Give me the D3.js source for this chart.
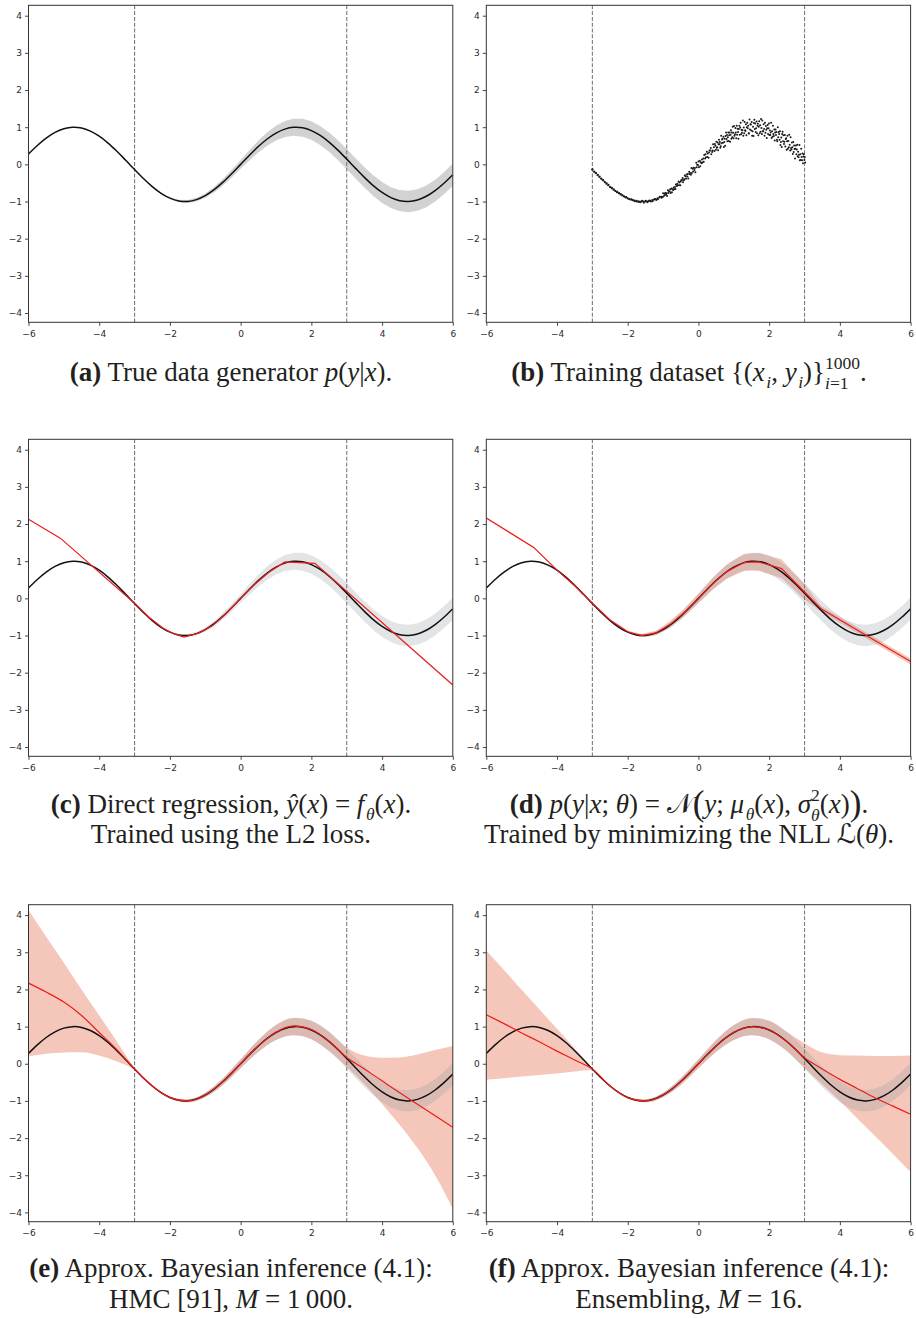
<!DOCTYPE html>
<html>
<head>
<meta charset="utf-8">
<script src="https://cdn.jsdelivr.net/npm/d3@7"></script>
<style>
  body { margin: 0; background: #fff; }
  svg { display: block; }
</style>
</head>
<body>
<svg id="fig" width="916" height="1318"></svg>
<script>
// axis setup
var xDomain = [-6, 6],
    yDomain = [-4.25, 4.28],
    xTicks = [-6, -4, -2, 0, 2, 4, 6],
    yTicks = [-4, -3, -2, -1, 0, 1, 2, 3, 4],
    trainEdges = [-3, 3];

// true mean of p(y|x), sampled every 0.25
var curveX = [-6, -5.75, -5.5, -5.25, -5, -4.75, -4.5, -4.25, -4, -3.75, -3.5, -3.25, -3,
  -2.75, -2.5, -2.25, -2, -1.75, -1.5, -1.25, -1, -0.75, -0.5, -0.25, 0,
  0.25, 0.5, 0.75, 1, 1.25, 1.5, 1.75, 2, 2.25, 2.5, 2.75, 3,
  3.25, 3.5, 3.75, 4, 4.25, 4.5, 4.75, 5, 5.25, 5.5, 5.75, 6];
var curveY = [0.279, 0.508, 0.706, 0.859, 0.959, 0.999, 0.978, 0.895, 0.757, 0.572, 0.351, 0.108, -0.141,
  -0.382, -0.598, -0.778, -0.909, -0.984, -0.997, -0.949, -0.841, -0.682, -0.479, -0.247, 0,
  0.247, 0.479, 0.682, 0.841, 0.949, 0.997, 0.984, 0.909, 0.778, 0.598, 0.382, 0.141,
  -0.108, -0.351, -0.572, -0.757, -0.895, -0.978, -0.999, -0.959, -0.859, -0.706, -0.508, -0.279];
// half width of the grey noise band
var noiseHalf = [0, 0, 0, 0, 0, 0, 0, 0, 0, 0, 0, 0, 0,
  0.005, 0.01, 0.015, 0.02, 0.03, 0.04, 0.05, 0.06, 0.075, 0.09, 0.105, 0.12,
  0.14, 0.16, 0.18, 0.2, 0.215, 0.23, 0.24, 0.25, 0.255, 0.26, 0.265, 0.27,
  0.272, 0.275, 0.277, 0.28, 0.282, 0.285, 0.287, 0.29, 0.292, 0.295, 0.297, 0.3];

// training samples (b), grouped by x column
var trainX = [-3, -2.95, -2.9, -2.85, -2.8, -2.75, -2.7, -2.65, -2.6, -2.55, -2.5, -2.45, -2.4, -2.35, -2.3,
  -2.25, -2.2, -2.15, -2.1, -2.05, -2, -1.95, -1.9, -1.85, -1.8, -1.75, -1.7, -1.65, -1.6, -1.55,
  -1.5, -1.45, -1.4, -1.35, -1.3, -1.25, -1.2, -1.15, -1.1, -1.05, -1, -0.95, -0.9, -0.85, -0.8,
  -0.75, -0.7, -0.65, -0.6, -0.55, -0.5, -0.45, -0.4, -0.35, -0.3, -0.25, -0.2, -0.15, -0.1, -0.05,
  0, 0.05, 0.1, 0.15, 0.2, 0.25, 0.3, 0.35, 0.4, 0.45, 0.5, 0.55, 0.6, 0.65, 0.7,
  0.75, 0.8, 0.85, 0.9, 0.95, 1, 1.05, 1.1, 1.15, 1.2, 1.25, 1.3, 1.35, 1.4, 1.45,
  1.5, 1.55, 1.6, 1.65, 1.7, 1.75, 1.8, 1.85, 1.9, 1.95, 2, 2.05, 2.1, 2.15, 2.2,
  2.25, 2.3, 2.35, 2.4, 2.45, 2.5, 2.55, 2.6, 2.65, 2.7, 2.75, 2.8, 2.85, 2.9, 2.95, 3];
var trainY = [
  [-0.14, -0.13], [-0.19, -0.2], [-0.24, -0.23], [-0.29, -0.28], [-0.34, -0.33], [-0.38, -0.39],
  [-0.43, -0.42], [-0.47, -0.48], [-0.52, -0.51], [-0.56, -0.55], [-0.6, -0.61], [-0.64, -0.63],
  [-0.68, -0.67], [-0.71, -0.72], [-0.75, -0.74], [-0.78, -0.77], [-0.81, -0.8], [-0.84, -0.83],
  [-0.86, -0.87], [-0.89, -0.88], [-0.91, -0.92], [-0.93, -0.94], [-0.95, -0.94], [-0.96, -0.97],
  [-0.97, -0.99], [-0.98, -1], [-0.99, -1.01], [-1, -1.02], [-1, -0.98], [-1, -1.03],
  [-1, -0.98], [-0.99, -1.02], [-0.99, -0.97], [-0.98, -1], [-0.96, -0.99], [-0.95, -0.93],
  [-0.93, -0.96], [-0.91, -0.94], [-0.89, -0.87], [-0.87, -0.9],
  [-0.88, -0.78, -0.86], [-0.79, -0.83, -0.77], [-0.81, -0.78, -0.85], [-0.7, -0.77, -0.72],
  [-0.73, -0.67, -0.77], [-0.65, -0.75, -0.67], [-0.69, -0.62, -0.67], [-0.61, -0.66, -0.54],
  [-0.58, -0.52, -0.56], [-0.46, -0.56, -0.49], [-0.56, -0.46, -0.43], [-0.42, -0.37, -0.48],
  [-0.43, -0.4, -0.3], [-0.33, -0.39, -0.27], [-0.33, -0.26, -0.38], [-0.2, -0.26, -0.23],
  [-0.28, -0.1, -0.23], [-0.12, -0.19, -0.09], [-0.15, -0.1, -0.21], [0.04, -0.08, -0.01],
  [-0.02, 0.08, -0.08], [0.1, -0.05, 0.06], [0.03, 0.13, 0.05], [0.16, 0.07, 0.25],
  [0.16, 0.27, 0.19], [0.34, 0.2, 0.29], [0.18, 0.32, 0.37], [0.37, 0.44, 0.27],
  [0.33, 0.37, 0.54], [0.46, 0.36, 0.55],
  [0.5, 0.39, 0.61, 0.45], [0.46, 0.59, 0.38, 0.54], [0.66, 0.54, 0.6, 0.45], [0.49, 0.77, 0.57, 0.67],
  [0.69, 0.58, 0.74, 0.47], [0.6, 0.69, 0.5, 0.76], [0.86, 0.68, 0.79, 0.62], [0.73, 0.86, 0.63, 0.78],
  [0.86, 0.61, 0.8, 0.92], [0.69, 0.86, 0.73, 1.01], [0.85, 0.7, 1.03, 0.77], [0.81, 0.98, 0.86, 0.7],
  [1.04, 0.8, 0.96, 0.87], [0.69, 0.95, 1.04, 0.8], [0.99, 1.12, 0.81, 0.93], [0.85, 0.92, 1.18, 0.77],
  [0.99, 0.84, 1.14, 0.92], [0.9, 1.08, 0.78, 1], [1.12, 0.97, 1.04, 0.84], [0.83, 1.21, 0.94, 1.08],
  [1.07, 0.91, 1.14, 0.77], [0.89, 1.01, 0.76, 1.11], [1.2, 0.95, 1.1, 0.87], [0.97, 1.15, 0.84, 1.04],
  [1.09, 0.78, 1.01, 1.16], [0.84, 1.05, 0.88, 1.22], [0.98, 0.82, 1.18, 0.89], [0.89, 1.08, 0.95, 0.77],
  [1.12, 0.85, 1.03, 0.93], [0.71, 0.97, 1.06, 0.82], [0.97, 1.1, 0.79, 0.91], [0.79, 0.86, 1.12, 0.71],
  [0.89, 0.74, 1.04, 0.82], [0.76, 0.94, 0.64, 0.86], [0.94, 0.79, 0.87, 0.66], [0.62, 1, 0.73, 0.87],
  [0.82, 0.66, 0.89, 0.52], [0.6, 0.72, 0.47, 0.82], [0.88, 0.62, 0.78, 0.55], [0.61, 0.79, 0.48, 0.68],
  [0.7, 0.39, 0.62, 0.77], [0.42, 0.63, 0.46, 0.8], [0.53, 0.37, 0.73, 0.44], [0.4, 0.59, 0.46, 0.28],
  [0.6, 0.33, 0.51, 0.41], [0.16, 0.42, 0.51, 0.27], [0.4, 0.53, 0.22, 0.34], [0.19, 0.26, 0.52, 0.11],
  [0.27, 0.12, 0.42, 0.2], [0.11, 0.29, 0.03, 0.21], [0.27, 0.12, 0.2, 0.05]
];

// (c) direct regression, L2 loss
var l2X = [-6, -5.1, -3, -2.6, -2.2, -1.9, -1.6, -1.2, -0.8, -0.4, 0, 0.4, 0.8, 1.25, 2.1, 6];
var l2Y = [2.13, 1.62, -0.13, -0.5, -0.8, -0.95, -1.04, -0.94, -0.74, -0.4, 0, 0.38, 0.7, 0.98, 0.94, -2.33];

// (d) gaussian NLL: mean and half width of predicted band
var nllX = [-6, -4.66, -4, -3.5, -3, -2.5, -2, -1.6, -1.2, -0.8, -0.4, 0, 0.4, 0.8, 1.3, 1.7, 2.35, 3, 3.48, 6];
var nllY = [2.16, 1.37, 0.76, 0.34, -0.13, -0.58, -0.9, -1, -0.93, -0.7, -0.38, 0, 0.39, 0.72, 0.97, 0.98, 0.8, 0.17, -0.29, -1.7];
var nllHalf = [0.02, 0.02, 0.02, 0.02, 0.02, 0.02, 0.03, 0.04, 0.06, 0.09, 0.11, 0.13, 0.16, 0.19, 0.23, 0.24, 0.25, 0.2, 0.08, 0.08];

// (e) HMC and (f) ensembling, on a common grid
var bayesX = [-6, -5.5, -5, -4.5, -4, -3.5, -3, -2.5, -2, -1.5, -1, -0.5, 0, 0.5, 1, 1.5, 2, 2.5, 3, 3.5, 4, 4.5, 5, 5.5, 6];
var hmcMean = [2.17, 1.93, 1.66, 1.3, 0.84, 0.38, -0.14, -0.6, -0.91, -1, -0.84, -0.48, 0, 0.48, 0.85, 1.02, 0.92, 0.61, 0.17, -0.14, -0.46, -0.78, -1.09, -1.4, -1.71];
var hmcHi = [4.14, 3.42, 2.72, 2, 1.3, 0.6, -0.11, -0.57, -0.88, -0.96, -0.78, -0.39, 0.12, 0.64, 1.05, 1.24, 1.16, 0.86, 0.44, 0.22, 0.16, 0.17, 0.25, 0.37, 0.48];
var hmcLo = [0.2, 0.27, 0.3, 0.31, 0.22, 0.06, -0.17, -0.61, -0.93, -1.04, -0.9, -0.57, -0.12, 0.32, 0.64, 0.77, 0.66, 0.34, -0.08, -0.55, -1.08, -1.65, -2.27, -3, -3.9];
var ensMean = [1.32, 1.08, 0.83, 0.59, 0.34, 0.1, -0.14, -0.6, -0.91, -1, -0.84, -0.48, 0, 0.48, 0.84, 1, 0.91, 0.6, 0.16, -0.14, -0.42, -0.67, -0.92, -1.14, -1.36];
var ensHi = [3.05, 2.52, 1.99, 1.47, 0.94, 0.41, -0.12, -0.58, -0.89, -0.96, -0.78, -0.39, 0.12, 0.64, 1.04, 1.23, 1.16, 0.86, 0.55, 0.3, 0.23, 0.22, 0.21, 0.21, 0.22];
var ensLo = [-0.43, -0.39, -0.34, -0.3, -0.26, -0.21, -0.17, -0.61, -0.93, -1.04, -0.9, -0.57, -0.12, 0.32, 0.64, 0.77, 0.66, 0.34, -0.12, -0.55, -1, -1.48, -1.95, -2.43, -2.92];

// layout
var plotW = 424.3, plotH = 317;
var colLeft = [28.5, 486.3], rowTop = [5.3, 439.3, 904.7];
var capCenter = [231, 689], capSize = 27;
var sans = "'DejaVu Sans', sans-serif",
    serif = "'Liberation Serif', 'Times New Roman', serif",
    script = "'DejaVu Serif', 'DejaVu Sans', serif";

var svg = d3.select('#fig');
var x = d3.scaleLinear().domain(xDomain).range([0, plotW]);
var y = d3.scaleLinear().domain(yDomain).range([plotH, 0]);

var band = d3.area()
	.x(function(d) { return x(d.x); })
	.y0(function(d) { return y(d.lo); })
	.y1(function(d) { return y(d.hi); });
var line = d3.line()
	.x(function(d) { return x(d[0]); })
	.y(function(d) { return y(d[1]); });

var zipLine = function(xs, ys) { return xs.map(function(v, i) { return [v, ys[i]]; }); };
var zipBand = function(xs, lo, hi) { return xs.map(function(v, i) { return { x: v, lo: lo[i], hi: hi[i] }; }); };

var noiseBand = curveX.map(function(v, i) {
	return { x: v, lo: curveY[i] - noiseHalf[i], hi: curveY[i] + noiseHalf[i] };
});
var nllBand = nllX.map(function(v, i) {
	return { x: v, lo: nllY[i] - nllHalf[i], hi: nllY[i] + nllHalf[i] };
});

var panel = function(col, row, id) {
	var g = svg.append('g').attr('transform', 'translate(' + colLeft[col] + ',' + rowTop[row] + ')');
	g.append('clipPath').attr('id', 'clip-' + id)
		.append('rect').attr('width', plotW).attr('height', plotH);
	var plot = g.append('g').attr('clip-path', 'url(#clip-' + id + ')');

	var ax = g.append('g').attr('transform', 'translate(0,' + plotH + ')')
		.call(d3.axisBottom(x).tickValues(xTicks).tickSize(3.5).tickPadding(4.5));
	var ay = g.append('g')
		.call(d3.axisLeft(y).tickValues(yTicks).tickSize(3.5).tickPadding(3));
	[ax, ay].forEach(function(a) {
		a.select('.domain').remove();
		a.selectAll('line').attr('stroke', '#333').attr('stroke-width', 0.9);
		a.selectAll('text').attr('font-family', sans).attr('font-size', 9).attr('fill', '#2a2a2a');
	});
	g.append('rect').attr('width', plotW).attr('height', plotH)
		.attr('fill', 'none').attr('stroke', '#333').attr('stroke-width', 1);
	return plot;
}

var drawNoise = function(plot, light) {
	plot.append('path').datum(noiseBand).attr('d', band)
		.attr('fill', light ? '#959ca3' : '#8a8a8a').attr('fill-opacity', light ? 0.27 : 0.38);
}
var drawRedBand = function(plot, data, curve) {
	plot.append('path').datum(data).attr('d', band.curve(curve || d3.curveLinear))
		.attr('fill', '#e8795c').attr('fill-opacity', 0.42);
	band.curve(d3.curveLinear);
}
var drawEdges = function(plot) {
	plot.selectAll('.edge').data(trainEdges).enter().append('line')
		.attr('class', 'edge')
		.attr('x1', x).attr('x2', x)
		.attr('y1', 0).attr('y2', plotH)
		.attr('stroke', '#7a7a7a').attr('stroke-width', 1.1).attr('stroke-dasharray', '4,1.8');
}
var drawTruth = function(plot) {
	plot.append('path').datum(zipLine(curveX, curveY))
		.attr('d', line.curve(d3.curveCatmullRom))
		.attr('fill', 'none').attr('stroke', '#111').attr('stroke-width', 1.5);
	line.curve(d3.curveLinear);
}
var drawRed = function(plot, xs, ys, curve) {
	plot.append('path').datum(zipLine(xs, ys))
		.attr('d', line.curve(curve || d3.curveLinear))
		.attr('fill', 'none').attr('stroke', '#ee1c1c').attr('stroke-width', 1.2);
	line.curve(d3.curveLinear);
}

// (a)
var pa = panel(0, 0, 'a');
drawNoise(pa, false);
drawEdges(pa);
drawTruth(pa);

// (b)
var pb = panel(1, 0, 'b');
drawEdges(pb);
var pts = [];
trainX.forEach(function(v, i) {
	var n = trainY[i].length;
	trainY[i].forEach(function(w, k) { pts.push([v + (k - (n - 1) / 2) * 0.0125, w]); });
});
pb.selectAll('.pt').data(pts).enter().append('circle')
	.attr('class', 'pt')
	.attr('cx', function(d) { return x(d[0]); })
	.attr('cy', function(d) { return y(d[1]); })
	.attr('r', 1)
	.attr('fill', '#1a1a1a');

// (c)
var pc = panel(0, 1, 'c');
drawNoise(pc, true);
drawEdges(pc);
drawTruth(pc);
drawRed(pc, l2X, l2Y);

// (d)
var pd = panel(1, 1, 'd');
drawRedBand(pd, nllBand);
drawNoise(pd, true);
drawEdges(pd);
drawTruth(pd);
drawRed(pd, nllX, nllY);

// (e)
var pe = panel(0, 2, 'e');
drawRedBand(pe, zipBand(bayesX, hmcLo, hmcHi), d3.curveMonotoneX);
drawNoise(pe, true);
drawEdges(pe);
drawTruth(pe);
drawRed(pe, bayesX, hmcMean, d3.curveMonotoneX);

// (f)
var pf = panel(1, 2, 'f');
drawRedBand(pf, zipBand(bayesX, ensLo, ensHi), d3.curveMonotoneX);
drawNoise(pf, true);
drawEdges(pf);
drawTruth(pf);
drawRed(pf, bayesX, ensMean, d3.curveMonotoneX);

// captions, laid out as tspans and centred under each column
var caption = function(cx, baseline, runs) {
	var text = svg.append('text')
		.attr('x', cx).attr('y', baseline)
		.attr('text-anchor', 'middle')
		.attr('font-family', serif).attr('font-size', capSize).attr('fill', '#231f20');
	var shift = 0, pendingDx = 0;
	var put = function(r, stacked) {
		if (typeof r === 'string') r = { t: r };
		var off = r.sub ? (stacked ? 0.3 : 0.26) : r.sup ? -0.46 : r.big ? 0.06 : 0;
		var ts = text.append('tspan').text(r.t).attr('dy', (off - shift) * capSize);
		shift = off;
		if (r.i) ts.attr('font-style', 'italic');
		if (r.b) ts.attr('font-weight', 'bold');
		if (r.sub || r.sup) ts.attr('font-size', capSize * 0.65);
		if (r.big) ts.attr('font-size', capSize * 1.3);
		if (r.font) ts.attr('font-family', r.font);
		if (r.sub && !stacked) pendingDx += 1.5;
		if (pendingDx) { ts.attr('dx', pendingDx); pendingDx = 0; }
		return ts;
	};
	runs.forEach(function(r) {
		if (r && r.stack) {
			var supW = 0, subW = 0;
			r.stack[0].forEach(function(s) { supW += put(s, true).node().getComputedTextLength(); });
			r.stack[1].forEach(function(s, k) {
				var ts = put(s, true);
				if (k === 0) ts.attr('dx', -supW);
				subW += ts.node().getComputedTextLength();
			});
			pendingDx = Math.max(0, supW - subW);
		} else {
			put(r, false);
		}
	});
}

var capA = [{ t: '(a)', b: 1 }, ' True data generator ', { t: 'p', i: 1 }, '(', { t: 'y', i: 1 }, '|', { t: 'x', i: 1 }, ').'];
var capB = [{ t: '(b)', b: 1 }, ' Training dataset {(', { t: 'x', i: 1 }, { t: 'i', i: 1, sub: 1 }, ', ',
	{ t: 'y', i: 1 }, { t: 'i', i: 1, sub: 1 }, ')}',
	{ stack: [[{ t: '1000', sup: 1 }], [{ t: 'i', i: 1, sub: 1 }, { t: '=1', sub: 1 }]] }, '.'];
var capC1 = [{ t: '(c)', b: 1 }, ' Direct regression, ', { t: 'ŷ', i: 1 }, '(', { t: 'x', i: 1 }, ') = ',
	{ t: 'f', i: 1 }, { t: 'θ', i: 1, sub: 1 }, '(', { t: 'x', i: 1 }, ').'];
var capC2 = ['Trained using the L2 loss.'];
var capD1 = [{ t: '(d)', b: 1 }, ' ', { t: 'p', i: 1 }, '(', { t: 'y', i: 1 }, '|', { t: 'x', i: 1 }, '; ',
	{ t: 'θ', i: 1 }, ') = ', { t: '𝒩', font: script }, { t: '(', big: 1 },
	{ t: 'y', i: 1 }, '; ', { t: 'μ', i: 1 }, { t: 'θ', i: 1, sub: 1 }, '(', { t: 'x', i: 1 }, '), ',
	{ t: 'σ', i: 1 }, { stack: [[{ t: '2', sup: 1 }], [{ t: 'θ', i: 1, sub: 1 }]] },
	'(', { t: 'x', i: 1 }, ')', { t: ')', big: 1 }, '.'];
var capD2 = ['Trained by minimizing the NLL ', { t: 'ℒ', font: script }, '(', { t: 'θ', i: 1 }, ').'];
var capE1 = [{ t: '(e)', b: 1 }, ' Approx. Bayesian inference (4.1):'];
var capE2 = ['HMC [91], ', { t: 'M', i: 1 }, ' = 1\u2009000.'];
var capF1 = [{ t: '(f)', b: 1 }, ' Approx. Bayesian inference (4.1):'];
var capF2 = ['Ensembling, ', { t: 'M', i: 1 }, ' = 16.'];

caption(capCenter[0], 381, capA);
caption(capCenter[1], 381, capB);
caption(capCenter[0], 813, capC1);
caption(capCenter[0], 843, capC2);
caption(capCenter[1], 813, capD1);
caption(capCenter[1], 843, capD2);
caption(capCenter[0], 1277, capE1);
caption(capCenter[0], 1308, capE2);
caption(capCenter[1], 1277, capF1);
caption(capCenter[1], 1308, capF2);
</script>
</body>
</html>
